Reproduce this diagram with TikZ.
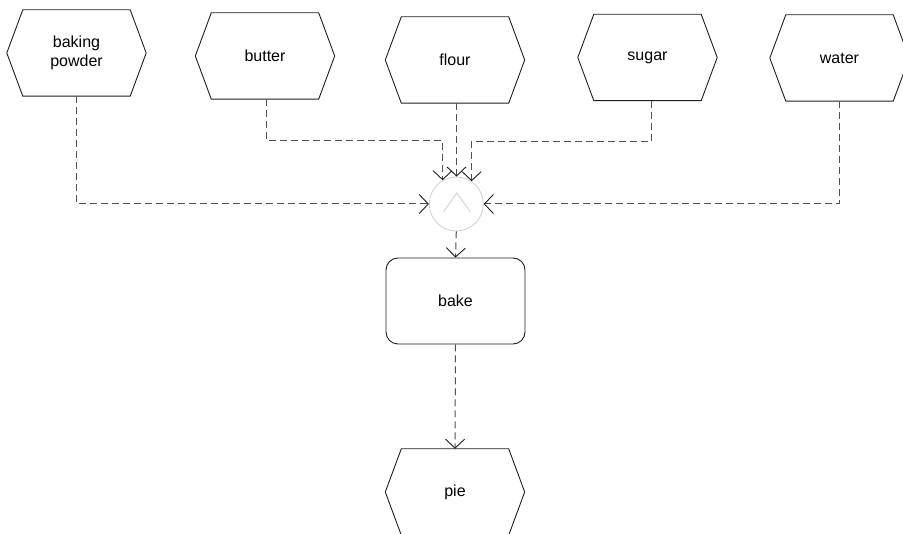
\documentclass[tikz,border=0pt]{standalone}
\usepackage{fontspec}
\setmainfont{Liberation Sans}
\usetikzlibrary{arrows.meta,calc}
\definecolor{edgeink}{HTML}{1E1E1E}
\definecolor{flowink}{HTML}{505050}
\definecolor{joinink}{HTML}{D2D2D2}
\begin{document}
\begin{tikzpicture}[x=1pt,y=-1pt,
  label font/.style={font=\fontsize{16}{18.5}\selectfont},
  event/.style={rectangle, minimum width=139pt, minimum height=86pt, inner sep=0pt,
    align=center, label font},
  func/.style={rectangle, rounded corners=12pt, draw=edgeink, line width=0.9pt,
    minimum width=139pt, minimum height=86pt, inner sep=0pt, label font},
  joiner/.style={circle, draw=joinink, line width=0.9pt, minimum size=54pt, inner sep=0pt},
  flow/.style={draw=flowink, line width=1pt, dash pattern=on 7pt off 4pt,
    -{Straight Barb[length=9pt, width=19pt, color=edgeink, line width=0.9pt]}},
  hexline/.style={draw=edgeink, line width=0.9pt, line join=miter}]
\clip (0,0) rectangle (903,534);

% events
\node[event] (bp) at (76.5,53) {baking\\powder};
\node[event] (bu) at (265,56) {butter};
\node[event] (fl) at (455,60) {flour};
\node[event] (su) at (647.5,57.5) {sugar};
\node[event] (wa) at (839.5,58) {water};
\node[event] (pie) at (455,492) {pie};

% hexagonal outlines of the events
\foreach \n in {bp,bu,fl,su,wa,pie}
  \draw[hexline] ([xshift=16pt]\n.north west) -- ([xshift=-16pt]\n.north east)
    -- (\n.east) -- ([xshift=-16pt]\n.south east) -- ([xshift=16pt]\n.south west)
    -- (\n.west) -- cycle;

% AND connector
\node[joiner] (and) at (456.3,204) {};
\draw[joinink, line width=0.9pt] ([shift={(-13,8)}]and.center)
  -- ([shift={(0.5,-11)}]and.center) -- ([shift={(14,8)}]and.center);

% function
\node[func] (bake) at (455.5,301) {bake};

% control flow
\draw[flow] (bp.south) |- (and.west);
\draw[flow] (wa.south) |- (and.east);
\draw[flow] ([xshift=1pt]bu.south) |- ($(and.120)+(0,-40)$) -- (and.120);
\draw[flow] ([xshift=3.5pt]su.south) |- ($(and.56)+(0,-40)$) -- (and.56);
\draw[flow] ([xshift=1.5pt]fl.south) -- ([xshift=0.2pt]and.north);
\draw[flow] (and.south) -- (bake.north);
\draw[flow] (bake.south) -- (pie.north);
\end{tikzpicture}
\end{document}
